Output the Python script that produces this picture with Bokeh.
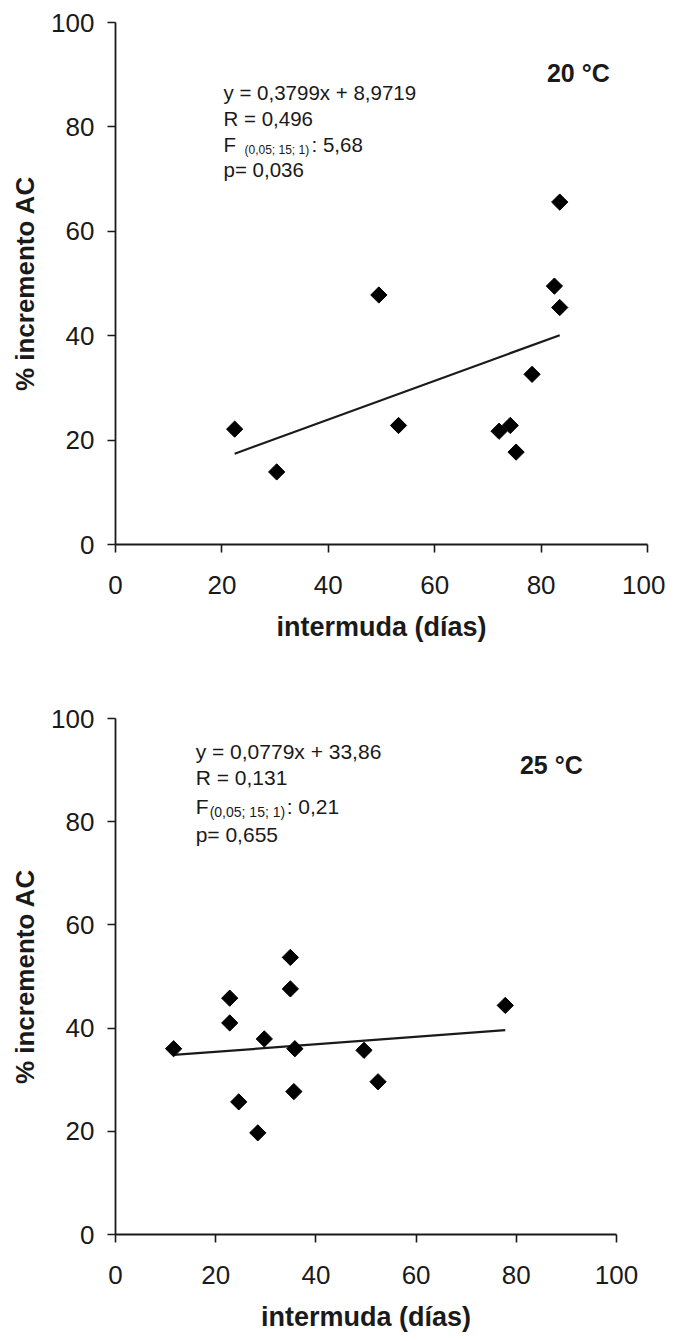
from bokeh.plotting import figure
from bokeh.layouts import column
from bokeh.models import Label, FixedTicker, Range1d
from bokeh.embed import file_html
from bokeh.resources import INLINE
import math

# ---- data ----
x_20 = [22.4, 30.3, 49.5, 53.2, 72.1, 74.2, 75.3, 78.3, 82.5, 83.5, 83.5]
y_20 = [22.1, 13.9, 47.8, 22.8, 21.7, 22.8, 17.7, 32.6, 49.5, 45.4, 65.6]
fit_x_20 = [22.4, 83.5]
fit_y_20 = [17.4, 40.1]

x_25 = [11.6, 22.8, 22.8, 24.6, 28.4, 29.7, 34.9, 34.9, 35.8, 35.6, 49.6, 52.4, 77.8]
y_25 = [36.0, 45.8, 41.0, 25.7, 19.7, 37.9, 53.7, 47.6, 36.0, 27.7, 35.7, 29.6, 44.4]
fit_x_25 = [11.6, 77.8]
fit_y_25 = [34.8, 39.6]

ticks = [0, 20, 40, 60, 80, 100]
x_label = "intermuda (días)"
y_label = "% incremento AC"

stats_20 = ["y = 0,3799x + 8,9719", "R = 0,496", "F", "p= 0,036"]
sub_20 = "(0,05; 15; 1)"
fval_20 = ": 5,68"
temp_20 = "20 °C"

stats_25 = ["y = 0,0779x + 33,86", "R = 0,131", "F", "p= 0,655"]
sub_25 = "(0,05; 15; 1)"
fval_25 = ": 0,21"
temp_25 = "25 °C"

FONT = "Liberation Sans"
INK = "#1a1a1a"


def make_fig(fw, fh, bl, br, bt, bb):
    p = figure(frame_width=fw, frame_height=fh,
               min_border_left=bl, min_border_right=br,
               min_border_top=bt, min_border_bottom=bb,
               x_range=Range1d(0, 100), y_range=Range1d(0, 100),
               output_backend="svg", toolbar_location=None,
               background_fill_color="white", border_fill_color="white")
    p.outline_line_color = None
    p.grid.visible = False
    for ax in (p.xaxis[0], p.yaxis[0]):
        ax.ticker = FixedTicker(ticks=ticks)
        ax.axis_line_color = INK
        ax.axis_line_width = 1.8
        ax.major_tick_line_color = INK
        ax.major_tick_line_width = 1.6
        ax.major_tick_in = 0
        ax.major_tick_out = 8
        ax.minor_tick_line_color = None
        ax.major_label_text_font = FONT
        ax.major_label_text_font_size = "26px"
        ax.major_label_text_color = INK
        ax.axis_label_text_font = FONT
        ax.axis_label_text_font_style = "bold"
        ax.axis_label_text_color = INK
    p.xaxis.axis_label = x_label
    p.yaxis.axis_label = y_label
    p.xaxis.axis_label_text_font_size = "27px"
    p.yaxis.axis_label_text_font_size = "26px"
    p.xaxis.major_label_standoff = 23
    p.xaxis.axis_label_standoff = 15
    p.yaxis.major_label_standoff = 13
    p.yaxis.axis_label_standoff = 8
    return p


def add_stats(p, x0, ys, lines, size, sub, fval, sub_dx, sub_size, colon_dx):
    for i, t in enumerate(lines):
        p.add_layout(Label(x=x0, y=ys[i], text=t, text_font=FONT,
                           text_font_size=size, text_color=INK,
                           text_baseline="middle", text_align="left"))
    p.add_layout(Label(x=x0, y=ys[2], x_offset=sub_dx, y_offset=-5, text=sub,
                       text_font=FONT, text_font_size=sub_size, text_color=INK,
                       text_baseline="middle", text_align="left"))
    p.add_layout(Label(x=x0, y=ys[2], x_offset=colon_dx, text=fval,
                       text_font=FONT, text_font_size=size, text_color=INK,
                       text_baseline="middle", text_align="left"))


# ---- top: 20 °C ----
p1 = make_fig(532, 522, 115, 18, 22, 125)
p1.line(fit_x_20, fit_y_20, line_color=INK, line_width=2.2)
p1.scatter(x_20, y_20, marker="square", size=11.5, angle=math.pi / 4,
           fill_color="black", line_color="black")
add_stats(p1, 20.3, [86.6, 81.6, 76.6, 71.8], stats_20, "20.5px",
          sub_20, fval_20, 21, "12px", 88)
p1.add_layout(Label(x=87.0, y=90.3, text=temp_20, text_font=FONT,
                    text_font_size="25px", text_font_style="bold", text_color=INK,
                    text_baseline="middle", text_align="center"))

# ---- bottom: 25 °C ----
p2 = make_fig(501, 516, 114, 30, 49, 100)
p2.line(fit_x_25, fit_y_25, line_color=INK, line_width=2.2)
p2.scatter(x_25, y_25, marker="square", size=11.5, angle=math.pi / 4,
           fill_color="black", line_color="black")
add_stats(p2, 16.0, [93.6, 88.6, 82.9, 77.5], stats_25, "21px",
          sub_25, fval_25, 14, "14px", 91)
p2.add_layout(Label(x=87.0, y=90.9, text=temp_25, text_font=FONT,
                    text_font_size="25px", text_font_style="bold", text_color=INK,
                    text_baseline="middle", text_align="center"))

layout = column(p1, p2, spacing=0)
open("out.html", "w").write(file_html(layout, INLINE))
